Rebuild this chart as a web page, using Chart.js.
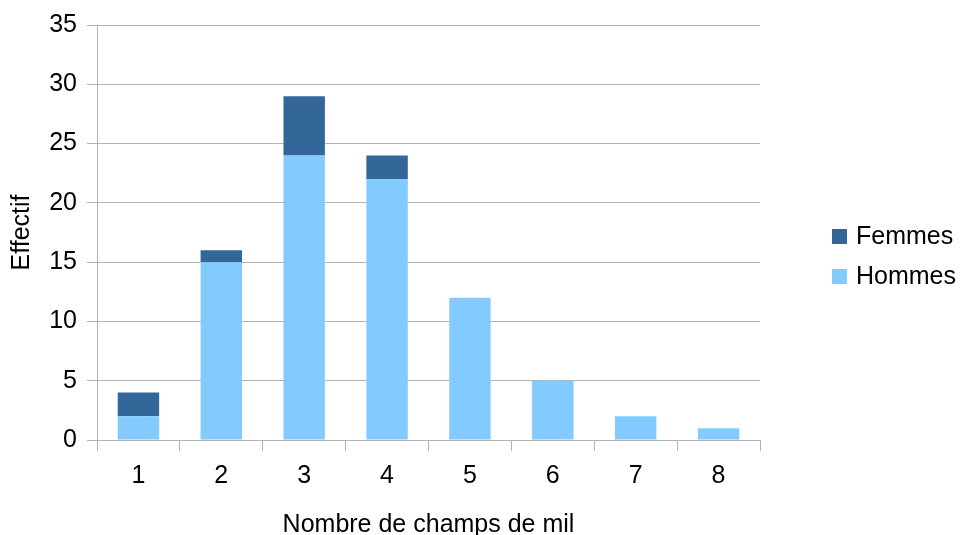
<!DOCTYPE html>
<html>
<head>
<meta charset="utf-8">
<script src="https://cdn.jsdelivr.net/npm/chart.js@4/dist/chart.umd.min.js"></script>
<style>
  html, body { margin: 0; padding: 0; background: #fff; }
  #wrap { width: 960px; height: 535px; position: relative; }
</style>
</head>
<body>
<div id="wrap"><canvas id="barChart"></canvas></div>
<script>
var categories = ['1', '2', '3', '4', '5', '6', '7', '8'];
var hommes = [2, 15, 24, 22, 12, 5, 2, 1];
var femmes = [2, 1, 5, 2, 0, 0, 0, 0];
var seriesNames = ['Hommes', 'Femmes'];

var gridColor = '#b3b3b3';
var fontFamily = '"Liberation Sans", Arial, sans-serif';

// legend drawn at the right, Femmes above Hommes
var sideLegend = {
    id: 'sideLegend',
    afterDraw: function (chart) {
        var ctx = chart.ctx;
        var items = chart.data.datasets.slice().reverse();
        ctx.save();
        ctx.font = '25px ' + fontFamily;
        ctx.textBaseline = 'middle';
        items.forEach(function (ds, i) {
            var y = 236 + i * 40;
            ctx.fillStyle = ds.backgroundColor;
            ctx.fillRect(832, y - 7, 15, 15);
            ctx.fillStyle = '#000';
            ctx.fillText(ds.label, 856, y + 1);
        });
        ctx.restore();
    }
};

document.addEventListener("DOMContentLoaded", function () {
    var ctx = document.getElementById('barChart').getContext('2d');
    new Chart(ctx, {
        type: 'bar',
        data: {
            labels: categories,
            datasets: [
                {
                    label: seriesNames[0],
                    backgroundColor: '#83caff',
                    data: hommes
                },
                {
                    label: seriesNames[1],
                    backgroundColor: '#336699',
                    data: femmes
                }
            ]
        },
        options: {
            responsive: true,
            maintainAspectRatio: false,
            animation: false,
            layout: { padding: { top: 25, right: 200, left: 0, bottom: 0 } },
            categoryPercentage: 1,
            barPercentage: 0.5,
            plugins: {
                legend: { display: false },
                tooltip: { enabled: false }
            },
            scales: {
                x: {
                    stacked: true,
                    offset: true,
                    grid: {
                        offset: true,
                        drawOnChartArea: false,
                        drawTicks: true,
                        tickLength: 11,
                        color: gridColor,
                        lineWidth: 1
                    },
                    border: { color: gridColor, width: 1 },
                    ticks: {
                        color: '#000',
                        padding: 10,
                        font: { family: fontFamily, size: 25 }
                    },
                    title: {
                        display: true,
                        text: 'Nombre de champs de mil',
                        color: '#000',
                        font: { family: fontFamily, size: 25, lineHeight: 1 },
                        padding: { top: 4, bottom: -3 }
                    },
                    afterFit: function (scale) { scale.height = 95; }
                },
                y: {
                    stacked: true,
                    min: 0,
                    max: 35,
                    grid: {
                        color: gridColor,
                        tickLength: 10,
                        lineWidth: 1
                    },
                    border: { color: gridColor, width: 1 },
                    ticks: {
                        stepSize: 5,
                        color: '#000',
                        padding: 10,
                        font: { family: fontFamily, size: 25 }
                    },
                    title: {
                        display: true,
                        text: 'Effectif',
                        color: '#000',
                        font: { family: fontFamily, size: 25 },
                        padding: { top: 7, bottom: 4 }
                    },
                    afterFit: function (scale) { scale.width = 97; }
                }
            }
        },
        plugins: [sideLegend]
    });
});
</script>
</body>
</html>
